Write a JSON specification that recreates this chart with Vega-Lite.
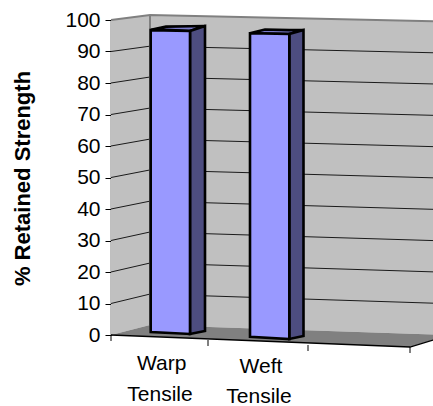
{
"$schema":"https://vega.github.io/schema/vega-lite/v6.json",
"width":322,"height":315,
"autosize":{"type":"none"},
"padding":{"left":111,"top":20,"right":0,"bottom":71},
"background":"white",
"config":{"view":{"stroke":null},"font":"Liberation Sans"},
"datasets":{
"walls":[
{"wall":"left","x":0,"y":0,"y2":100},{"wall":"left","x":0.39,"y":3.17,"y2":101.6},
{"wall":"back","x":0.39,"y":3.17,"y2":101.6},{"wall":"back","x":3.22,"y":0.16,"y2":99.6}],
"floor":[{"x":0,"y":0,"y2":0},{"x":0.39,"y":3.17,"y2":-0.5},{"x":2.99,"y":0.4,"y2":-3.81},{"x":3.22,"y":0.16,"y2":-1.59}],
"edges":[
{"edge":"a","x":0,"y":100},{"edge":"a","x":0.39,"y":101.6},{"edge":"a","x":3.22,"y":99.6},
{"edge":"b","x":0.39,"y":3.17},{"edge":"b","x":0.39,"y":101.6}],
"grid":[
{"level":10,"x":0,"y":10},{"level":10,"x":0.39,"y":13.0},{"level":10,"x":3.22,"y":10.1},
{"level":20,"x":0,"y":20},{"level":20,"x":0.39,"y":22.85},{"level":20,"x":3.22,"y":20.04},
{"level":30,"x":0,"y":30},{"level":30,"x":0.39,"y":32.7},{"level":30,"x":3.22,"y":29.98},
{"level":40,"x":0,"y":40},{"level":40,"x":0.39,"y":42.5},{"level":40,"x":3.22,"y":39.9},
{"level":50,"x":0,"y":50},{"level":50,"x":0.39,"y":52.4},{"level":50,"x":3.22,"y":49.9},
{"level":60,"x":0,"y":60},{"level":60,"x":0.39,"y":62.2},{"level":60,"x":3.22,"y":59.8},
{"level":70,"x":0,"y":70},{"level":70,"x":0.39,"y":72.05},{"level":70,"x":3.22,"y":69.74},
{"level":80,"x":0,"y":80},{"level":80,"x":0.39,"y":81.9},{"level":80,"x":3.22,"y":79.7},
{"level":90,"x":0,"y":90},{"level":90,"x":0.39,"y":91.7},{"level":90,"x":3.22,"y":89.6}],
"bars":[
{"bar":"Warp Tensile","face":"top","x":0.4,"y":96.9,"y2":96.9},{"bar":"Warp Tensile","face":"top","x":0.55,"y":97.9,"y2":96.85},{"bar":"Warp Tensile","face":"top","x":0.79,"y":98.0,"y2":96.5},{"bar":"Warp Tensile","face":"top","x":0.94,"y":98.1,"y2":98.1},
{"bar":"Warp Tensile","face":"side","x":0.79,"y":96.5,"y2":0.32},{"bar":"Warp Tensile","face":"side","x":0.94,"y":98.1,"y2":1.27},
{"bar":"Warp Tensile","face":"front","x":0.397,"y":96.8,"y2":0.95},{"bar":"Warp Tensile","face":"front","x":0.79,"y":96.5,"y2":0.32},
{"bar":"Weft Tensile","face":"top","x":1.39,"y":95.8,"y2":95.8},{"bar":"Weft Tensile","face":"top","x":1.54,"y":97.0,"y2":95.72},{"bar":"Weft Tensile","face":"top","x":1.783,"y":96.8,"y2":95.55},{"bar":"Weft Tensile","face":"top","x":1.925,"y":96.8,"y2":96.8},
{"bar":"Weft Tensile","face":"side","x":1.783,"y":95.55,"y2":-1.27},{"bar":"Weft Tensile","face":"side","x":1.925,"y":96.8,"y2":-0.32},
{"bar":"Weft Tensile","face":"front","x":1.39,"y":95.8,"y2":-0.54},{"bar":"Weft Tensile","face":"front","x":1.783,"y":95.55,"y2":-1.27}],
"front":[{"x":0,"y":0},{"x":2.99,"y":-3.81},{"x":3.22,"y":-1.59}],
"ticks":[{"x":0,"y":0,"y2":-1.9},{"x":0.97,"y":-1.59,"y2":-3.49},{"x":1.97,"y":-3.17,"y2":-5.08},{"x":2.99,"y":-3.81,"y2":-5.71}],
"labels":[
{"text":"Warp","x":0.507,"y":-11.1},{"text":"Tensile","x":0.49,"y":-20.95},
{"text":"Weft","x":1.5,"y":-12.06},{"text":"Tensile","x":1.48,"y":-21.5}]
},
"encoding":{
  "x":{"field":"x","type":"quantitative","scale":{"domain":[0,3.22],"nice":false},"axis":null},
  "y":{"field":"y","type":"quantitative","stack":null,"scale":{"domain":[0,100],"nice":false},
   "axis":{"values":[0,10,20,30,40,50,60,70,80,90,100],"tickCount":11,"labelOverlap":false,"labelFlush":false,"grid":false,"domainColor":"black","domainWidth":1.5,"tickColor":"black","tickWidth":1,"tickSize":6,"labelFontSize":21,"labelColor":"black","labelPadding":5,"labelFont":"Liberation Sans","title":"% Retained Strength","titleFontSize":22,"titleFontWeight":"bold","titleColor":"black","titleFont":"Liberation Sans","titleX":-82,"titleY":158,"titleAngle":-90,"titleBaseline":"alphabetic"}}
},
"layer":[
{"data":{"name":"walls"},"mark":{"type":"area","fill":"#C0C0C0"},
 "encoding":{"detail":{"field":"wall"},"y2":{"field":"y2"}}},
{"data":{"name":"grid"},"mark":{"type":"line","stroke":"#1a1a1a","strokeWidth":1},
 "encoding":{"detail":{"field":"level"}}},
{"data":{"name":"edges"},"mark":{"type":"line","stroke":"#808080","strokeWidth":2},
 "encoding":{"detail":{"field":"edge"}}},
{"data":{"name":"floor"},"mark":{"type":"area","fill":"#808080"},
 "encoding":{"y2":{"field":"y2"}}},
{"data":{"name":"bars"},"mark":{"type":"area","stroke":"black","strokeWidth":2.6,"strokeJoin":"miter","opacity":1},
 "encoding":{"detail":{"field":"bar"},
  "color":{"field":"face","type":"nominal","legend":null,"scale":{"domain":["front","side","top"],"range":["#9999FF","#4D4D80","#7A7ACC"]}},
  "y2":{"field":"y2"}}},
{"data":{"name":"front"},"mark":{"type":"line","stroke":"black","strokeWidth":1.3},
 "encoding":{}},
{"data":{"name":"ticks"},"mark":{"type":"rule","stroke":"black","strokeWidth":1},
 "encoding":{"y2":{"field":"y2"}}},
{"data":{"name":"labels"},"mark":{"type":"text","fontSize":21,"color":"black","align":"center","baseline":"alphabetic","font":"Liberation Sans"},
 "encoding":{"text":{"field":"text"}}}
]
}
